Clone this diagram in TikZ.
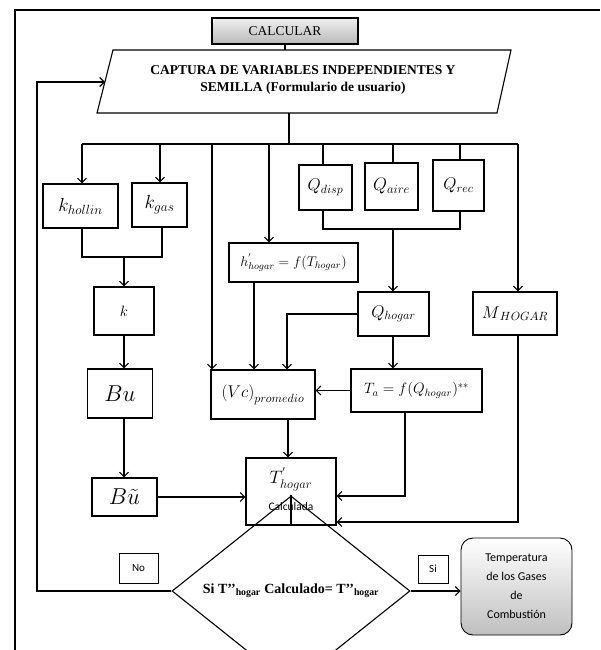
\RequirePackage{fix-cm}
\documentclass[tikz,border=0pt]{standalone}
\usepackage{fontspec}
\setmainfont{Liberation Serif}
\newfontfamily\calib{Carlito}
\usetikzlibrary{arrows.meta,shapes.geometric}
\newcommand\fsz[1]{\fontsize{#1}{#1}\selectfont}
\begin{document}
\begin{tikzpicture}[x=1pt,y=-1pt,
  box/.style={draw, line width=1.1pt, inner sep=0pt, align=center},
  ln/.style={line width=1.1pt},
  arr/.style={line width=1.1pt, -{Straight Barb[length=4.5pt,width=9pt,line width=1.1pt]}},
  lbl/.style={draw, line width=0.6pt, inner sep=0pt, font=\calib\fsz{11}}]
\useasboundingbox (0,0) rectangle (600,650);
% frame
\draw[line width=1.3pt] (15,650) -- (15,10) -- (600,10);
% top
\node[box, top color=gray!12, bottom color=gray!55, minimum width=146, minimum height=26, font=\fsz{13.5}] (calc) at (285,31) {CALCULAR};
\coordinate (p1) at (113,50); \coordinate (p2) at (511,50);
\coordinate (p3) at (497,113); \coordinate (p4) at (97,113);
\draw[ln] (p1) -- (p2) -- (p3) -- (p4) -- cycle;
\node[align=center, font=\bfseries\fontsize{13.5}{17}\selectfont] (cap) at (303,80)
  {CAPTURA DE VARIABLES INDEPENDIENTES Y\\SEMILLA (Formulario de usuario)};
\draw[ln] (calc.south) -- (calc.south |- p1);
\coordinate (capB) at (289,113);
\coordinate (capL) at (105,82);
% bus
\coordinate (b1) at (82,144); \coordinate (b2) at (160,144);
\coordinate (b3) at (212,144); \coordinate (b4) at (269,144);
\coordinate (b0) at (289,144); \coordinate (b5) at (323,144);
\coordinate (b6) at (393,144); \coordinate (b7) at (460,144);
\coordinate (b8) at (518,144);
\draw[ln] (capB) -- (b0);
\draw[ln] (b1) -- (b8);
% boxes
\node[box, minimum width=75, minimum height=44] (khol) at (80.5,206) {\fsz{19}$k_{hollin}$};
\node[box, minimum width=55, minimum height=44] (kgas) at (159.5,205) {\fsz{19}$k_{gas}$};
\node[box, minimum width=60, minimum height=48] (k) at (124,311) {\fsz{15}$k$};
\node[box, minimum width=65, minimum height=49] (Bu) at (120,393.5) {\fsz{23}$Bu$};
\node[box, minimum width=65, minimum height=38] (Bt) at (124.5,497) {\fsz{23}$B\tilde{u}$};
\node[box, minimum width=129, minimum height=39] (h) at (293.5,262.5) {\fsz{14}$h^{'}_{hogar}=f(T_{hogar})$};
\node[box, minimum width=53, minimum height=45] (Qd) at (325.5,187.5) {\fsz{17}$Q_{disp}$};
\node[box, minimum width=53, minimum height=47] (Qa) at (391.5,186.5) {\fsz{18}$Q_{aire}$};
\node[box, minimum width=51, minimum height=51] (Qr) at (458.5,185.5) {\fsz{17}$Q_{rec}$};
\node[box, minimum width=71, minimum height=44] (Qh) at (393.5,314) {\fsz{17}$Q_{hogar}$};
\node[box, minimum width=84, minimum height=43] (M) at (515,313.5) {\fsz{17}$M_{\,HOGAR}$};
\node[box, minimum width=104, minimum height=49] (Vc) at (263,394.5) {\fsz{17}$\bigl(Vc\bigr)_{promedio}$};
\node[box, minimum width=131, minimum height=43] (Ta) at (416.5,390.5) {\fsz{15}$T_a=f(Q_{hogar})^{**}$};
\node[box, minimum width=90, minimum height=67] (T) at (291,491.5) {};
\node[inner sep=0pt, font=\fsz{18}] (Tmath) at (291,479) {$T^{'}_{hogar}$};
\node[inner sep=0pt, font=\calib\fsz{11.5}] (Tcalc) at (291,507) {Calculada};
\node[draw, line width=1.1pt, diamond, inner sep=0pt, minimum width=238, minimum height=86, font=\bfseries\fsz{14}] (dec) at (291,591)
  {Si T{'}{'}\textsubscript{hogar} Calculado= T{'}{'}\textsubscript{hogar}};
\node[lbl, minimum width=39, minimum height=30] (no) at (138.5,568) {No};
\node[lbl, minimum width=30, minimum height=28] (si) at (433,569) {Si};
\node[draw, line width=0.9pt, rounded corners=12pt, top color=white, bottom color=gray!50, inner sep=0pt,
  minimum width=111, minimum height=97, align=center, font=\calib\fontsize{12}{19}\selectfont] (term) at (516.5,586.5)
  {Temperatura\\de los Gases\\de\\Combusti\'on};
% drops from bus
\draw[arr] (b1) -- (b1 |- khol.north);
\draw[arr] (b2) -- (b2 |- kgas.north);
\draw[arr] (b3) -- (b3 |- Vc.north);
\draw[arr] (b4) -- (b4 |- h.north);
\draw[ln] (b5) -- (b5 |- Qd.north);
\draw[ln] (b6) -- (b6 |- Qa.north);
\draw[ln] (b7) -- (b7 |- Qr.north);
\draw[arr] (b8) -- (b8 |- M.north);
% k branch
\coordinate (j1) at (124,257);
\draw[ln] (b1 |- khol.south) -- (b1 |- j1) -- (162,257) -- (162,227);
\draw[arr] (j1) -- (j1 |- k.north);
\draw[arr] (j1 |- k.south) -- (j1 |- Bu.north);
\draw[arr] (j1 |- Bu.south) -- (j1 |- Bt.north);
\draw[arr] (Bt.east) -- (Bt.east -| T.west);
% Q branch
\coordinate (j2) at (393,229);
\draw[ln] (b5 |- Qd.south) -- (b5 |- j2) -- (b7 |- j2) -- (b7 |- Qr.south);
\draw[arr] (j2) -- (j2 |- Qh.north);
\draw[arr] (j2 |- Qh.south) -- (j2 |- Ta.north);
% into Vc
\coordinate (hv) at (254,282);
\draw[arr] (hv) -- (hv |- Vc.north);
\coordinate (qv) at (287,314);
\draw[arr] (Qh.west) -- (qv) -- (qv |- Vc.north);
\draw[arr] (Ta.west) -- (Ta.west -| Vc.east);
% into T
\coordinate (vt) at (288,419);
\draw[arr] (vt) -- (vt |- T.north);
\coordinate (ta2) at (405,496);
\draw[arr] (ta2 |- Ta.south) -- (ta2) -- (ta2 -| T.east);
\coordinate (m2) at (518,522);
\draw[arr] (M.south -| m2) -- (m2) -- (m2 -| T.east);
% decision
\draw[ln] (T.south) -- (dec.north);
\coordinate (lpB) at (37,591); \coordinate (lpT) at (37,82);
\draw[arr] (dec.west) -- (lpB) -- (lpT) -- (capL);
\draw[arr] (dec.east) -- (dec.east -| term.west);
\end{tikzpicture}
\end{document}
